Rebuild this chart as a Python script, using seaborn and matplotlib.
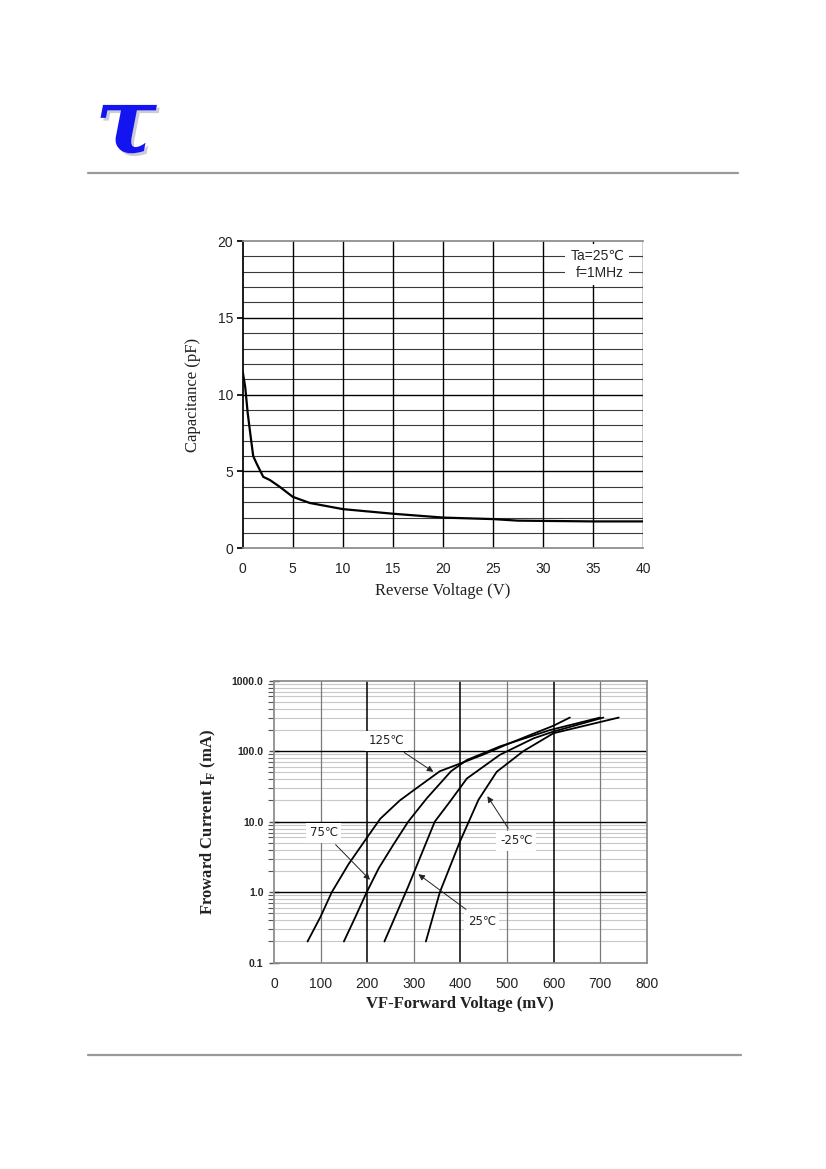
import matplotlib
matplotlib.use('Agg')
import matplotlib.pyplot as plt
import matplotlib.patheffects as pe
from matplotlib.lines import Line2D
from matplotlib.ticker import MultipleLocator, LogLocator, FixedLocator
import seaborn as sns
import pandas as pd
import numpy as np

sns.set_theme(style="white")
plt.rcParams['font.family'] = ['Liberation Sans', 'DejaVu Sans']

SERIF = ['Liberation Serif', 'DejaVu Serif']
SANS = ['Liberation Sans', 'DejaVu Sans']
GRAY = '#8a8a8a'

# ── Data ────────────────────────────────────────────────────
# capacitance vs reverse voltage
cap_v = [0, 0.25, 0.5, 0.75, 1.05, 1.4, 2.05, 2.7, 3.7, 5.0, 6.7, 10, 15, 20, 25, 27.5, 35, 40]
cap_pf = [11.5, 10.5, 8.8, 7.5, 6.0, 5.5, 4.65, 4.45, 4.0, 3.35, 2.95, 2.55, 2.25, 2.0, 1.9, 1.8, 1.75, 1.75]

# forward current vs forward voltage per temperature
vf_125 = [72, 100, 124, 160, 200, 228, 270, 300, 356, 400, 450, 500, 550, 600, 635]
if_125 = [0.2, 0.45, 1.0, 2.5, 6, 11, 20, 28, 52, 67, 90, 125, 170, 230, 300]
vf_75 = [150, 175, 199, 225, 256, 288, 328, 380, 414, 485, 593, 700]
if_75 = [0.2, 0.45, 1.0, 2.2, 4.7, 10, 21.5, 52, 75, 117, 200, 300]
vf_25 = [237, 288, 345, 378, 414, 485, 557, 600, 707]
if_25 = [0.2, 1.2, 10, 19.4, 41, 89, 152, 190, 300]
vf_m25 = [326, 356, 399, 439, 478, 535, 600, 740]
if_m25 = [0.2, 1.0, 5.2, 20.5, 51, 100, 180, 300]

temp_labels = ['125℃', '75℃', '25℃', '-25℃']
y_ticks_fwd = [0.1, 1.0, 10.0, 100.0, 1000.0]

df_cap = pd.DataFrame({'V': cap_v, 'C': cap_pf})
df_fwd = pd.concat([
    pd.DataFrame({'VF': vf_125, 'IF': if_125, 'T': temp_labels[0]}),
    pd.DataFrame({'VF': vf_75, 'IF': if_75, 'T': temp_labels[1]}),
    pd.DataFrame({'VF': vf_25, 'IF': if_25, 'T': temp_labels[2]}),
    pd.DataFrame({'VF': vf_m25, 'IF': if_m25, 'T': temp_labels[3]}),
], ignore_index=True)

# ── Page ────────────────────────────────────────────────────
fig = plt.figure(figsize=(8.26, 11.69), dpi=100, facecolor='white')

# logo
fig.text(126/826, 1 - 127/1169, 'τ', fontsize=66, color='#1414f0',
         family=['DejaVu Serif'], fontweight='bold', style='italic', ha='center', va='center',
         path_effects=[pe.SimplePatchShadow(offset=(2, -2), shadow_rgbFace='#c0c0d0', alpha=0.8),
                       pe.Normal()])

fig.add_artist(Line2D([88/826, 738/826], [1 - 173/1169] * 2, color='#999999', lw=1.6))
fig.add_artist(Line2D([88/826, 741/826], [1 - 1055/1169] * 2, color='#999999', lw=1.6))

# ── Plot 1: Capacitance ─────────────────────────────────────
ax1 = fig.add_axes([242.7/826, 1 - 548.3/1169, 400.6/826, 307.3/1169])
ax1.set_facecolor('white')
for yv in range(1, 20):
    ax1.axhline(yv, color='black' if yv % 5 == 0 else '#3a3a3a',
                lw=1.0 if yv % 5 == 0 else 0.8, zorder=0.6)
for xv in range(5, 41, 5):
    ax1.axvline(xv, color='black', lw=1.0, zorder=0.7)
sns.lineplot(data=df_cap, x='V', y='C', ax=ax1, color='black', lw=1.6)
ax1.set_xlim(0, 40)
ax1.set_ylim(0, 20)
ax1.xaxis.set_major_locator(MultipleLocator(5))
ax1.yaxis.set_major_locator(MultipleLocator(5))
ax1.tick_params(axis='y', which='major', direction='out', length=4, color='black',
                labelsize=10, pad=3, left=True)
ax1.tick_params(axis='x', length=0, labelsize=10, pad=10)
for t in ax1.get_xticklabels() + ax1.get_yticklabels():
    t.set_family(SANS)
    t.set_color('#222222')
ax1.spines['left'].set_color('black')
for s in ['top', 'bottom']:
    ax1.spines[s].set_color(GRAY)
ax1.spines['right'].set_visible(False)
ax1.set_xlabel('Reverse Voltage (V)', family=SERIF, fontsize=12, color='#222222', labelpad=5)
ax1.set_ylabel('Capacitance (pF)', family=SERIF, fontsize=12, color='#222222', labelpad=12)
ax1.text(38.1, 18.5, 'Ta=25℃\nf=1MHz', ha='right', va='center', multialignment='right',
         fontsize=10, family=SANS, linespacing=1.3, zorder=5,
         bbox=dict(boxstyle='square,pad=0.35', facecolor='white', edgecolor='none'))

# ── Plot 2: Forward characteristics ─────────────────────────
ax2 = fig.add_axes([274/826, 1 - 962.7/1169, 372.7/826, 282/1169])
ax2.set_facecolor('white')
ax2.set_yscale('log')
for dec in [0.1, 1, 10, 100]:
    for m in range(2, 10):
        ax2.axhline(dec * m, color='#c8c8c8', lw=0.8, zorder=0.6)
for xv in range(100, 800, 100):
    ax2.axvline(xv, color='black' if xv % 200 == 0 else '#7a7a7a',
                lw=1.1 if xv % 200 == 0 else 0.9, zorder=0.7)
for yv in [1, 10, 100]:
    ax2.axhline(yv, color='black', lw=1.0, zorder=0.8)
sns.lineplot(data=df_fwd, x='VF', y='IF', hue='T', ax=ax2, sort=False,
             palette=['black'] * 4, lw=1.3, legend=False)
ax2.set_xlim(0, 800)
ax2.set_ylim(0.1, 1000)
ax2.set_xticks(range(0, 801, 100))
ax2.yaxis.set_major_locator(FixedLocator(y_ticks_fwd))
ax2.yaxis.set_minor_locator(LogLocator(base=10, subs=np.arange(2, 10)))
ax2.set_yticklabels([f'{v:.1f}' for v in y_ticks_fwd])
ax2.tick_params(axis='y', which='major', direction='inout', length=7, width=1,
                color='#555555', labelsize=7.5, pad=4, left=True)
ax2.tick_params(axis='y', which='minor', direction='out', length=4, width=0.8,
                color='#555555', left=True)
ax2.tick_params(axis='x', which='both', length=0, labelsize=10, pad=10)
for t in ax2.get_yticklabels():
    t.set_family(SANS)
    t.set_fontweight('bold')
for t in ax2.get_xticklabels():
    t.set_family(SANS)
    t.set_color('#222222')
for s in ax2.spines.values():
    s.set_color(GRAY)
ax2.set_xlabel('VF-Forward Voltage (mV)', family=SERIF, fontsize=12, fontweight='bold',
               color='#222222', labelpad=4)
ax2.set_ylabel('Froward Current I$_\\mathregular{F}$ (mA)', family=SERIF, fontsize=12,
               fontweight='bold', color='#222222', labelpad=10)

ann = [
    ('125℃', (342, 51), (242, 140)),
    ('75℃', (206, 1.5), (107, 7.0)),
    ('-25℃', (458, 23), (520, 5.4)),
    ('25℃', (310, 1.8), (446, 0.39)),
]
for label, tip, pos in ann:
    ax2.annotate(label, xy=tip, xytext=pos, fontsize=8.5, family=['DejaVu Sans'],
                 color='#222222', ha='center', va='center', zorder=6,
                 bbox=dict(boxstyle='square,pad=0.3', facecolor='white', edgecolor='none'),
                 arrowprops=dict(arrowstyle='-|>', color='#222222', lw=0.7,
                                 mutation_scale=9, shrinkA=2, shrinkB=0))

plt.savefig('out.png', dpi=100, facecolor='white')
